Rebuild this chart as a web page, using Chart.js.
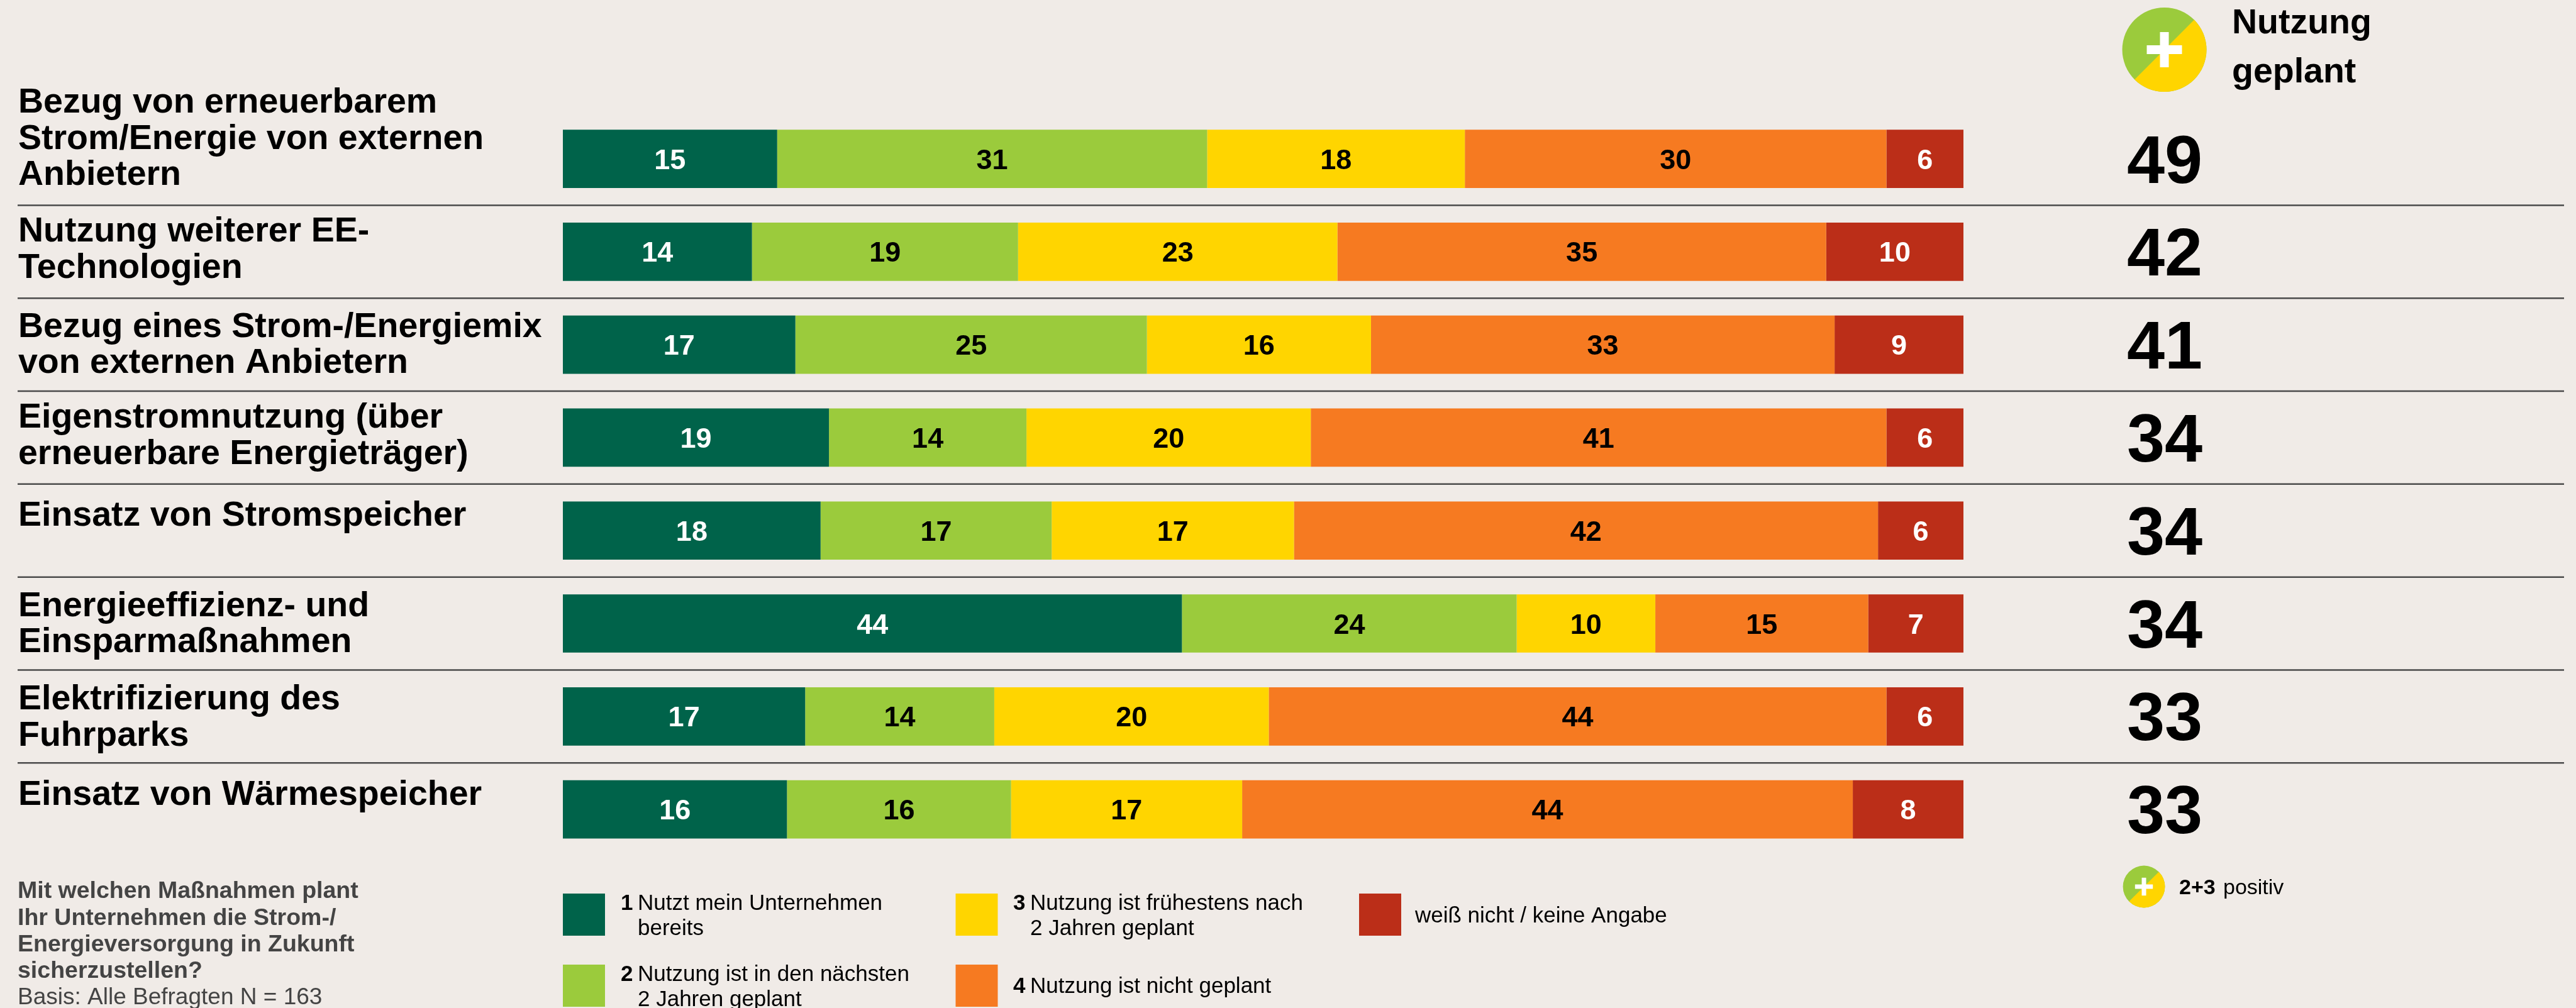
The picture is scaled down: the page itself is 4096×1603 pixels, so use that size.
<!DOCTYPE html>
<html>
<head>
<meta charset="utf-8">
<script src="https://cdn.jsdelivr.net/npm/chart.js@4"></script>
<style>
  html, body { margin: 0; padding: 0; background: #f0ebe7; overflow: hidden; }
  canvas { display: block; }
</style>
</head>
<body>
<canvas id="barChart" width="4096" height="1603"></canvas>
<script>
var categories = [
  ["Bezug von erneuerbarem", "Strom/Energie von externen", "Anbietern"],
  ["Nutzung weiterer EE-", "Technologien"],
  ["Bezug eines Strom-/Energiemix", "von externen Anbietern"],
  ["Eigenstromnutzung (über", "erneuerbare Energieträger)"],
  ["Einsatz von Stromspeicher"],
  ["Energieeffizienz- und", "Einsparmaßnahmen"],
  ["Elektrifizierung des", "Fuhrparks"],
  ["Einsatz von Wärmespeicher"]
];
var nutztBereits = [15.3, 13.5, 16.6, 19.0, 18.4, 44.2, 17.3, 16.0];
var naechste2Jahre = [30.7, 19.0, 25.1, 14.1, 16.5, 23.9, 13.5, 16.0];
var nach2Jahren = [18.4, 22.8, 16.0, 20.3, 17.3, 9.9, 19.6, 16.5];
var nichtGeplant = [30.1, 34.9, 33.1, 41.1, 41.7, 15.2, 44.1, 43.6];
var keineAngabe = [5.5, 9.8, 9.2, 5.5, 6.1, 6.8, 5.5, 7.9];
var nutzungGeplant = [49, 42, 41, 34, 34, 34, 33, 33];

var green = "#00634a", lime = "#9bcb3c", yellow = "#ffd500", orange = "#f67a21", red = "#bb2e18";
var sans = '"Liberation Sans", Arial, sans-serif';

// first baseline of each row label, relative to the bar centre
var labelShift = [-73.7, -16.4, -12.6, -16.0, -7.6, -12.0, -11.3, -7.0];

function makeSet(label, values, color, textColor) {
  return { label: label, data: values, backgroundColor: color, textColor: textColor, borderWidth: 0 };
}

function text(ctx, str, x, y, font, color) {
  ctx.font = font + " " + sans;
  ctx.fillStyle = color || "#000";
  ctx.fillText(str, x, y);
}

function badge(ctx, x, y, r, armLong, armThin) {
  ctx.fillStyle = lime;
  ctx.beginPath();
  ctx.arc(x, y, r, 0, Math.PI * 2);
  ctx.fill();
  ctx.fillStyle = yellow;
  ctx.beginPath();
  ctx.arc(x, y, r, -Math.PI / 4, Math.PI * 3 / 4);
  ctx.closePath();
  ctx.fill();
  ctx.fillStyle = "#fff";
  ctx.fillRect(x - armThin / 2, y - armLong / 2, armThin, armLong);
  ctx.fillRect(x - armLong / 2, y - armThin / 2, armLong, armThin);
}

var extras = {
  id: "extras",
  afterDatasetsDraw: function (chart) {
    var ctx = chart.ctx;
    var yScale = chart.scales.y;
    ctx.save();
    ctx.textBaseline = "alphabetic";

    // values inside the bars
    ctx.textAlign = "center";
    chart.data.datasets.forEach(function (set, d) {
      chart.getDatasetMeta(d).data.forEach(function (bar, i) {
        ctx.font = "bold 45px " + sans;
        ctx.fillStyle = set.textColor;
        ctx.fillText(Math.round(set.data[i]), (bar.x + bar.base) / 2, bar.y + 16);
      });
    });

    // separators between the rows
    ctx.strokeStyle = "#4a4a4a";
    ctx.lineWidth = 2.5;
    for (var i = 0; i < categories.length - 1; i++) {
      var sep = (yScale.getPixelForValue(i) + yScale.getPixelForValue(i + 1)) / 2;
      ctx.beginPath();
      ctx.moveTo(28, sep);
      ctx.lineTo(4077, sep);
      ctx.stroke();
    }

    // row labels and totals
    ctx.textAlign = "left";
    categories.forEach(function (lines, i) {
      var mid = yScale.getPixelForValue(i);
      lines.forEach(function (line, n) {
        text(ctx, line, 29, mid + labelShift[i] + n * 57.7, "bold 55.5px");
      });
      text(ctx, nutzungGeplant[i], 3382, mid + 38, "bold 108px");
    });

    // header
    badge(ctx, 3441.5, 79, 67, 56, 14);
    text(ctx, "Nutzung", 3549, 53, "bold 55.5px");
    text(ctx, "geplant", 3549, 131, "bold 55.5px");

    // question
    text(ctx, "Mit welchen Maßnahmen plant", 28, 1428, "bold 37.5px", "#444");
    text(ctx, "Ihr Unternehmen die Strom-/", 28, 1471, "bold 37.5px", "#444");
    text(ctx, "Energieversorgung in Zukunft", 28, 1513, "bold 37.5px", "#444");
    text(ctx, "sicherzustellen?", 28, 1555, "bold 37.5px", "#444");
    text(ctx, "Basis: Alle Befragten N = 163", 28, 1597, "37px", "#444");

    // legend
    var swatches = [[895, 1421, green], [895, 1534, lime], [1519.5, 1421, yellow], [1519.5, 1534, orange], [2161, 1421, red]];
    swatches.forEach(function (s) {
      ctx.fillStyle = s[2];
      ctx.fillRect(s[0], s[1], 67, 67);
    });
    text(ctx, "1", 987, 1447, "bold 35px");
    text(ctx, "Nutzt mein Unternehmen", 1014, 1447, "35px");
    text(ctx, "bereits", 1014, 1487, "35px");
    text(ctx, "2", 987, 1560, "bold 35px");
    text(ctx, "Nutzung ist in den nächsten", 1014, 1560, "35px");
    text(ctx, "2 Jahren geplant", 1014, 1600, "35px");
    text(ctx, "3", 1611, 1447, "bold 35px");
    text(ctx, "Nutzung ist frühestens nach", 1638, 1447, "35px");
    text(ctx, "2 Jahren geplant", 1638, 1487, "35px");
    text(ctx, "4", 1611, 1579, "bold 35px");
    text(ctx, "Nutzung ist nicht geplant", 1638, 1579, "35px");
    text(ctx, "weiß nicht / keine Angabe", 2250, 1467, "35px");

    // small badge
    badge(ctx, 3409, 1410, 33.4, 28.4, 7);
    text(ctx, "2+3", 3465, 1422, "bold 34px");
    text(ctx, "positiv", 3535, 1422, "34px");
    ctx.restore();
  }
};

var ctx = document.getElementById("barChart").getContext("2d");
var myChart = new Chart(ctx, {
  type: "bar",
  data: {
    labels: categories.map(function (c) { return c.join(" "); }),
    datasets: [
      makeSet("1 Nutzt mein Unternehmen bereits", nutztBereits, green, "#fff"),
      makeSet("2 Nutzung ist in den nächsten 2 Jahren geplant", naechste2Jahre, lime, "#000"),
      makeSet("3 Nutzung ist frühestens nach 2 Jahren geplant", nach2Jahren, yellow, "#000"),
      makeSet("4 Nutzung ist nicht geplant", nichtGeplant, orange, "#000"),
      makeSet("weiß nicht / keine Angabe", keineAngabe, red, "#fff")
    ]
  },
  options: {
    indexAxis: "y",
    responsive: false,
    animation: false,
    barPercentage: 0.627,
    categoryPercentage: 1,
    layout: { padding: { left: 895, right: 974, top: 178.7, bottom: 242 } },
    plugins: { legend: { display: false }, tooltip: { enabled: false } },
    scales: {
      x: { stacked: true, min: 0, max: 100, display: false },
      y: { stacked: true, display: false }
    }
  },
  plugins: [extras]
});
</script>
</body>
</html>
